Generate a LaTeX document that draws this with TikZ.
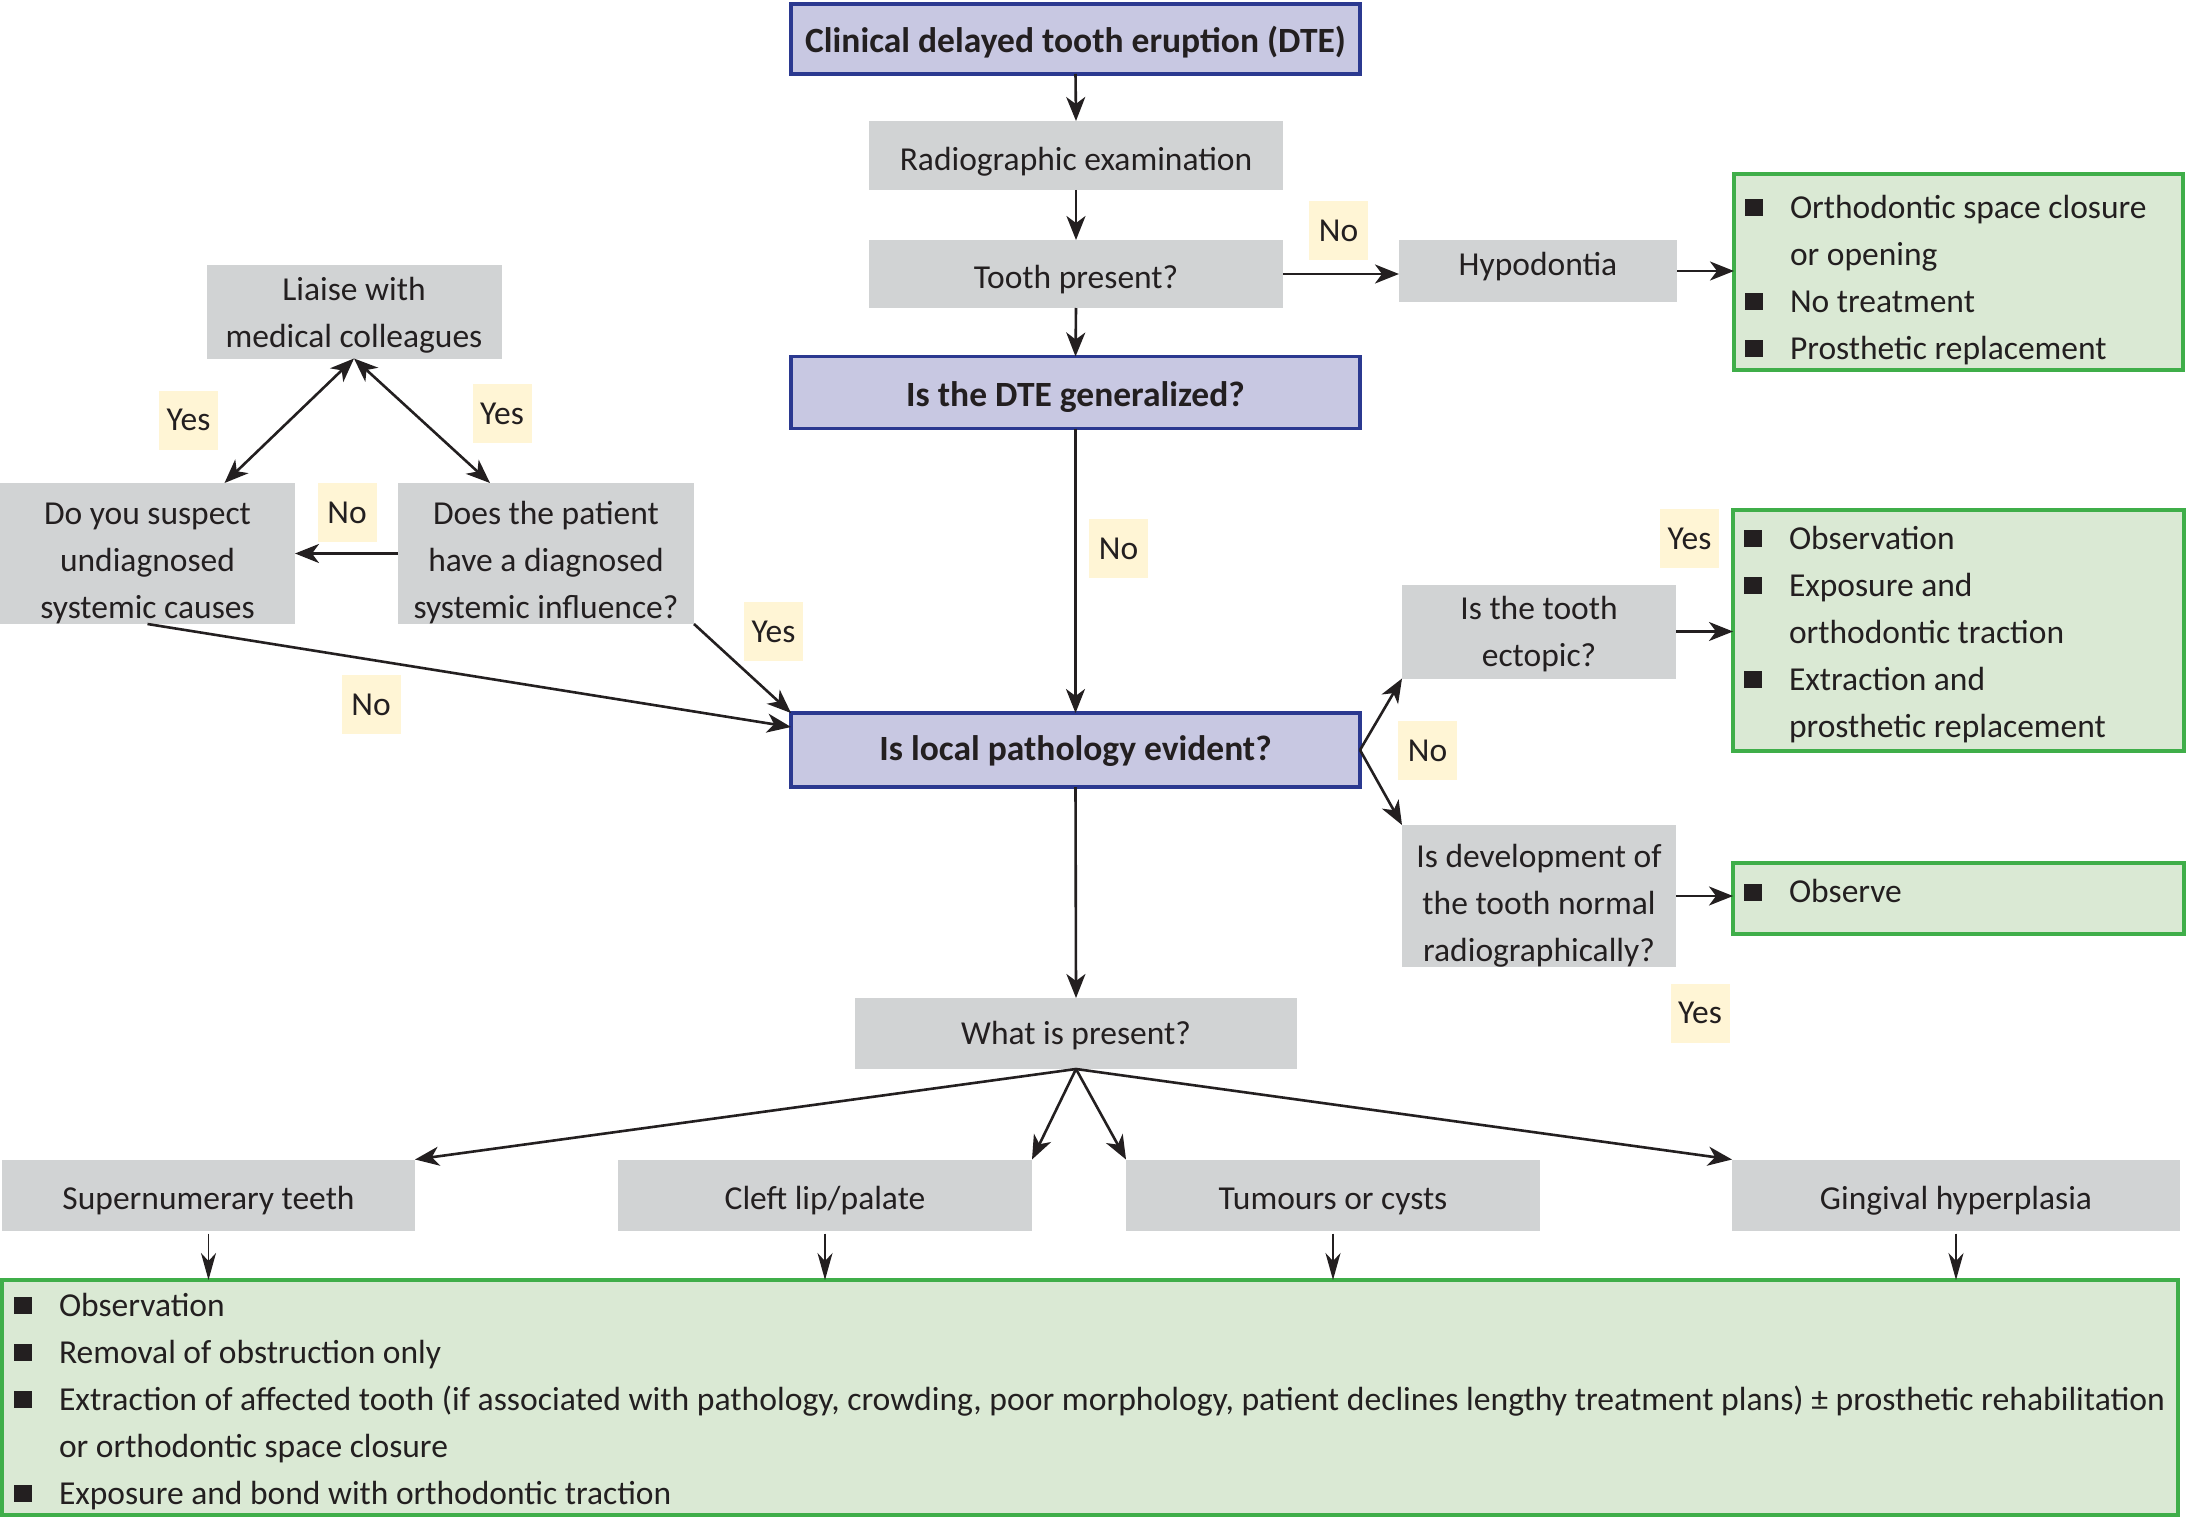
\documentclass[tikz,border=0pt]{standalone}
\usepackage{fontspec}
\setmainfont{Carlito}
\usetikzlibrary{arrows.meta,calc}
\definecolor{grayfill}{HTML}{D1D3D4}
\definecolor{bluefill}{HTML}{C8C8E2}
\definecolor{blueline}{HTML}{2B3990}
\definecolor{greenfill}{HTML}{DAE9D4}
\definecolor{greenline}{HTML}{3FAE49}
\definecolor{yellowfill}{HTML}{FFF5D5}
\definecolor{ink}{HTML}{231F20}
\newcommand{\bul}{\makebox[45pt][l]{\raisebox{2pt}{\rule{18pt}{17pt}}}}
\newcommand{\ind}{\hspace*{45pt}}
\newcommand{\tx}[2]{\raisebox{-#1pt}[\height][\depth]{\begin{tabular}{@{}c@{}}#2\end{tabular}}}
\newcommand{\tl}[3]{\makebox[#2pt][l]{\raisebox{-#1pt}[\height][\depth]{\begin{tabular}{@{}l@{}}#3\end{tabular}}}}
\begin{document}
\begin{tikzpicture}[x=1pt,y=-1pt,
  every node/.style={font=\fontsize{33.5}{47}\selectfont, text=ink, inner sep=0pt, outer sep=0pt},
  graybox/.style={fill=grayfill},
  bluebox/.style={fill=bluefill, draw=blueline, line width=3.5pt, font=\fontsize{35.5}{47}\selectfont\bfseries},
  greenbox/.style={fill=greenfill, draw=greenline, line width=3.5pt, inner xsep=11pt},
  lbl/.style={fill=yellowfill, minimum width=59pt, minimum height=59pt},
  >={Stealth[length=24pt,width=19pt,inset=7pt]},
  arr/.style={draw=ink, line width=2.6pt, ->},
  darr/.style={draw=ink, line width=2.6pt, <->},
  tarr/.style={draw=ink, line width=1.9pt, -{Stealth[length=27pt,width=15pt,inset=8pt]}}
]
\useasboundingbox (0,0) rectangle (2186,1517);
\fill[white] (0,0) rectangle (2186,1517);

% main column
\node[bluebox, minimum width=569pt, minimum height=70pt] (title) at (1075.5,39) {\tx{4}{Clinical delayed tooth eruption (DTE)}};
\node[graybox, minimum width=414pt, minimum height=69pt] (radio) at (1076,155.5) {\tx{5.5}{Radiographic examination}};
\node[graybox, minimum width=414pt, minimum height=68pt] (tooth) at (1076,274) {\tx{5.5}{Tooth present?}};
\node[graybox, minimum width=278pt, minimum height=62pt] (hypo) at (1538,271) {\tx{-5}{Hypodontia}};
\node[greenbox, minimum height=196pt] (green1) at (1958.5,272)
  {\tl{7.5}{427}{\bul Orthodontic space closure\\\ind or opening\\\bul No treatment\\\bul Prosthetic replacement}};
\node[bluebox, minimum width=569pt, minimum height=72pt] (dte) at (1075.5,392.5) {\tx{4.3}{Is the DTE generalized?}};
\node[bluebox, minimum width=569pt, minimum height=74pt] (local) at (1075.5,750) {\tx{1}{Is local pathology evident?}};

% left side
\node[graybox, minimum width=295pt, minimum height=91pt] (liaise) at (354,311.5) {\tx{2.8}{Liaise with\\medical colleagues}};
\node[graybox, minimum width=295pt, minimum height=141pt] (suspect) at (147.5,553.5) {\tx{8.2}{Do you suspect\\undiagnosed\\systemic causes}};
\node[graybox, minimum width=296pt, minimum height=141pt] (patient) at (546,553.5) {\tx{8.2}{Does the patient\\have a diagnosed\\systemic influence?}};

% right side
\node[graybox, minimum width=274pt, minimum height=93pt] (ectopic) at (1539,631.5) {\tx{2}{Is the tooth\\ectopic?}};
\node[graybox, minimum width=274pt, minimum height=142pt] (dev) at (1539,896) {\tx{8.8}{Is development of\\the tooth normal\\radiographically?}};
\node[greenbox, minimum height=241pt] (green2) at (1958.5,630.5)
  {\tl{3.4}{429}{\bul Observation\\\bul Exposure and\\\ind orthodontic traction\\\bul Extraction and\\\ind prosthetic replacement}};
\node[greenbox, minimum height=71pt] (observe) at (1958.5,898.5) {\tl{-5}{429}{\bul Observe}};

% bottom
\node[graybox, minimum width=442pt, minimum height=71pt] (what) at (1076,1033.5) {\tx{1.5}{What is present?}};
\node[graybox, minimum width=413pt, minimum height=71pt] (super) at (208.5,1195) {\tx{5}{Supernumerary teeth}};
\node[graybox, minimum width=414pt, minimum height=71pt] (cleft) at (825,1195) {\tx{5}{Cleft lip/palate}};
\node[graybox, minimum width=414pt, minimum height=71pt] (tumours) at (1333,1195) {\tx{5}{Tumours or cysts}};
\node[graybox, minimum width=448pt, minimum height=71pt] (ging) at (1956,1195) {\tx{5}{Gingival hyperplasia}};
\node[greenbox, inner xsep=12pt, minimum height=235pt] (bottom) at (1090,1397.5)
  {\tl{3.5}{2152}{\bul Observation\\\bul Removal of obstruction only\\\bul\resizebox{2106pt}{\height}{Extraction of affected tooth (if associated with pathology, crowding, poor morphology, patient declines lengthy treatment plans) ± prosthetic rehabilitation}\\\ind or orthodontic space closure\\\bul Exposure and bond with orthodontic traction}};

% labels
\node[lbl] (lnohypo) at (1338.5,230.5) {No};
\node[lbl] (lyes1) at (188.5,420) {Yes};
\node[lbl] (lyes2) at (502,413.5) {Yes};
\node[lbl] (lnomid) at (347,512.5) {No};
\node[lbl] (lyes3) at (773.5,631.5) {Yes};
\node[lbl] (lnobl) at (371,704.5) {No};
\node[lbl] (lnoc) at (1118.5,548.5) {No};
\node[lbl] (lyesr) at (1689.5,538.5) {Yes};
\node[lbl] (lnor) at (1427.5,750.5) {No};
\node[lbl] (lyesbr) at (1700,1013) {Yes};

% connectors
\draw[arr] (title.south) -- (radio.north);
\draw[arr] (radio.south) -- (tooth.north);
\draw[arr] (tooth.east) -- (tooth.east -| hypo.west);
\draw[arr] (hypo.east) -- (hypo.east -| green1.west);
\draw[arr] (tooth.south) -- (dte.north);
\draw[arr] (dte.south) -- (local.north);
\draw[arr] (patient.west) -- (suspect.east);
\draw[darr] (liaise.south) -- ([xshift=77pt]suspect.north);
\draw[darr] (liaise.south) -- ([xshift=-56pt]patient.north);
\draw[arr] (suspect.south) -- ([yshift=23pt]local.west);
\draw[arr] (patient.south east) -- (local.north west);
\draw[arr] (local.east) -- (ectopic.south west);
\draw[arr] (local.east) -- (dev.north west);
\draw[arr] (ectopic.east) -- (ectopic.east -| green2.west);
\draw[arr] (dev.east) -- (dev.east -| observe.west);
\draw[arr] (local.south) -- (what.north);
\draw[arr] (what.south) -- (super.north east);
\draw[arr] (what.south) -- (cleft.north east);
\draw[arr] (what.south) -- (tumours.north west);
\draw[arr] (what.south) -- (ging.north west);
\draw[tarr] ([yshift=-3pt]super.south) -- (super.south |- bottom.north);
\draw[tarr] ([yshift=-3pt]cleft.south) -- (cleft.south |- bottom.north);
\draw[tarr] ([yshift=-3pt]tumours.south) -- (tumours.south |- bottom.north);
\draw[tarr] ([yshift=-3pt]ging.south) -- (ging.south |- bottom.north);
\end{tikzpicture}
\end{document}
